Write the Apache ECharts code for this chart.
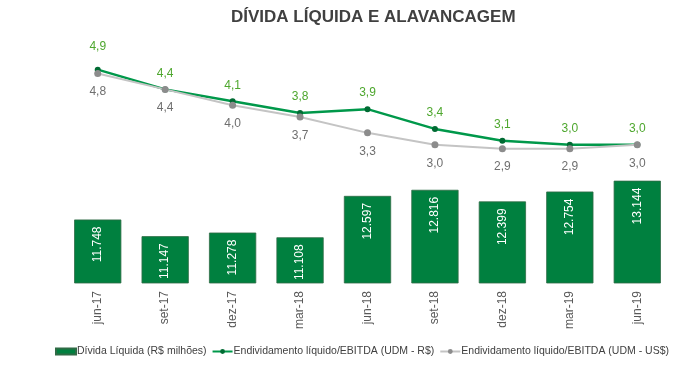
<!DOCTYPE html>
<html><head><meta charset="utf-8">
<script src="https://cdn.jsdelivr.net/npm/echarts@6/dist/echarts.min.js"></script>
<style>html,body{margin:0;padding:0;background:#fff}#c{width:685px;height:367px}</style>
</head><body><div id="c"></div>
<script>
const categories = ['jun-17','set-17','dez-17','mar-18','jun-18','set-18','dez-18','mar-19','jun-19'];
const dividaLiquida = [11748, 11147, 11278, 11108, 12597, 12816, 12399, 12754, 13144];
const alavancagemBRL = [4.9, 4.4, 4.1, 3.8, 3.9, 3.4, 3.1, 3.0, 3.0];
const alavancagemUSD = [4.8, 4.4, 4.0, 3.7, 3.3, 3.0, 2.9, 2.9, 3.0];

const chart = echarts.init(document.getElementById('c'), null, {renderer: 'canvas'});
const F = 'Liberation Sans, Arial, sans-serif';
const fmtThousands = v => String(v).replace(/\B(?=(\d{3})+(?!\d))/g, '.');
const fmtDec = v => v.toFixed(1).replace('.', ',');

chart.setOption({
  animation: false,
  backgroundColor: '#fff',
  title: {
    text: 'DÍVIDA LÍQUIDA E ALAVANCAGEM',
    left: 226, top: 4,
    textStyle: {fontFamily: F, fontWeight: 'bold', fontSize: 17, color: '#404040'}
  },
  legend: {
    left: 55, top: 346, padding: 0,
    itemGap: 5, itemWidth: 20, itemHeight: 6,
    textStyle: {fontFamily: F, fontSize: 10.5, color: '#404040', padding: [0,0,0,-4]},
    data: [
      {name: 'Dívida Líquida (R$ milhões)', icon: 'rect'},
      {name: 'Endividamento líquido/EBITDA (UDM - R$)'},
      {name: 'Endividamento líquido/EBITDA (UDM - US$)'}
    ]
  },
  grid: {left: 64, right: 14, top: 40, bottom: 84},
  xAxis: {
    type: 'category', data: categories,
    axisLine: {show: false}, axisTick: {show: false},
    axisLabel: {rotate: 90, margin: 8, fontFamily: F, fontSize: 12, color: '#595959'}
  },
  yAxis: [
    {type: 'value', min: 9464, max: 18205, show: false, splitLine: {show: false}},
    {type: 'value', min: -0.5, max: 5.65, show: false, splitLine: {show: false}}
  ],
  series: [
    {
      name: 'Dívida Líquida (R$ milhões)', type: 'bar', yAxisIndex: 0,
      data: dividaLiquida, barCategoryGap: '30%',
      itemStyle: {color: '#00803f', borderColor: '#2f6b45', borderWidth: 0.8},
      label: {
        show: true, position: 'insideTop', rotate: 90, align: 'right', verticalAlign: 'middle',
        distance: 7, color: '#fff', fontFamily: F, fontSize: 12,
        formatter: p => fmtThousands(p.value)
      }
    },
    {
      name: 'Endividamento líquido/EBITDA (UDM - R$)', type: 'line', yAxisIndex: 1,
      data: alavancagemBRL.map((v, i) => i === 0 ? {value: v, label: {distance: 14}} : v),
      lineStyle: {color: '#00984a', width: 2.5},
      itemStyle: {color: '#006b33'},
      symbol: 'circle', symbolSize: 6,
      label: {show: true, position: 'top', distance: 7, color: '#4ea72e', fontFamily: F, fontSize: 12, formatter: p => fmtDec(p.value)}
    },
    {
      name: 'Endividamento líquido/EBITDA (UDM - US$)', type: 'line', yAxisIndex: 1,
      data: alavancagemUSD,
      lineStyle: {color: '#c4c4c4', width: 2},
      itemStyle: {color: '#8c8c8c'},
      symbol: 'circle', symbolSize: 7,
      label: {show: true, position: 'bottom', distance: 9, color: '#6f6f6f', fontFamily: F, fontSize: 12, formatter: p => fmtDec(p.value)}
    }
  ]
});
</script>
</body></html>
